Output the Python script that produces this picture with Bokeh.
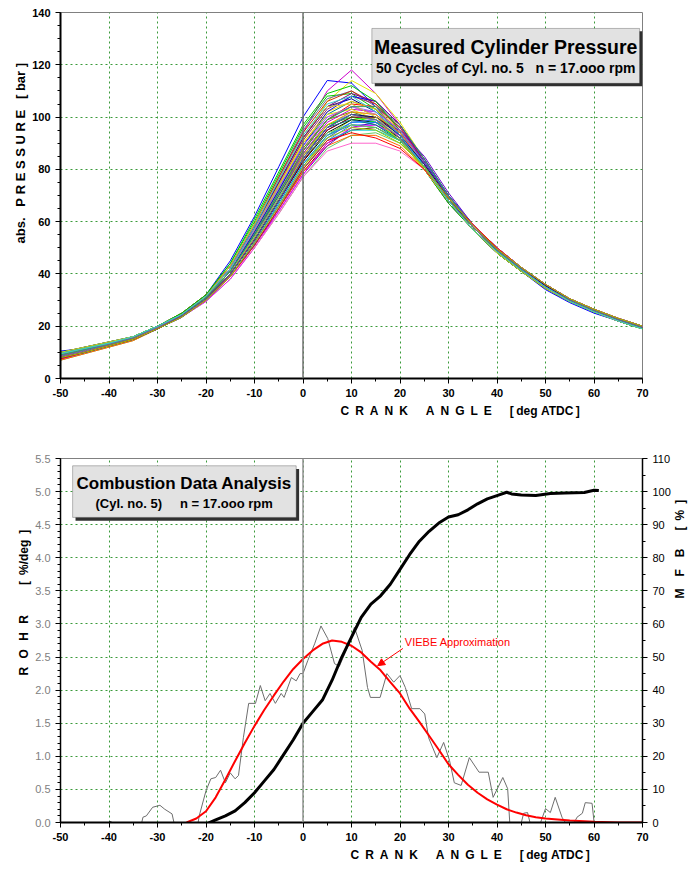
import math
from bokeh.plotting import figure
from bokeh.layouts import column
from bokeh.models import (Range1d, LinearAxis, Span, BoxAnnotation, Label, Arrow, Title,
                          NormalHead, SingleIntervalTicker, ColumnDataSource,
                          PrintfTickFormatter)
from bokeh.embed import file_html
from bokeh.resources import INLINE

# ---------------- data: top chart (50 measured pressure cycles) ----------------
angles = [-50, -45, -40, -35, -30, -25, -20, -15, -10, -5, 0, 5, 10, 15, 20, 25, 30, 35, 40, 45, 50, 55, 60, 65, 70]

cycles = [
    [10.5, 11.5, 13.5, 15.5, 19.5, 24, 32, 45, 62, 81, 100, 114, 113, 104, 93, 81, 68, 57, 48, 41, 34, 29, 25, 22, 19],
    [9, 11, 13, 15.5, 20, 25, 32, 43, 58, 76, 94, 110, 118, 109, 97, 82, 68, 58, 49, 41, 35, 29.5, 25.5, 22, 19.5],
    [8, 10.5, 12.5, 15, 19, 24, 31, 42, 57, 74, 91, 106, 114, 109, 98, 84, 70, 58, 49, 42, 35, 30, 26, 22.5, 19.5],
    [9.5, 12, 14, 16, 20, 24.5, 31, 41, 55, 71, 87, 99, 104, 101, 93, 81, 68, 57, 48, 41, 35, 30, 26, 22, 19],
    [8.5, 10.5, 13, 15.5, 19.5, 24, 30.5, 40, 53, 68, 83, 95, 100, 99, 92, 80, 67, 57, 49, 42, 35.5, 30, 26, 22.5, 20],
    [7.5, 10, 12.5, 15, 19, 23.5, 30, 39, 51, 65, 79, 90, 95, 96, 91, 81, 68, 58, 49, 42, 35, 30, 26, 22.5, 19.5],
    [10, 11.5, 13.5, 16, 20, 24.5, 31.5, 42, 57, 73, 89, 101, 106, 103, 94, 82, 69, 58, 49, 42, 35, 30, 25.5, 22, 19],
    [8, 10, 12.5, 15, 19, 23.5, 30, 39, 52, 66, 80, 91, 97, 97, 92, 82, 69, 58, 49, 42, 35.5, 30.5, 26, 22.5, 20],
    [9, 11, 13, 15.5, 20, 25, 32, 44, 60, 78, 96, 108, 109, 103, 93, 80, 67, 57, 48, 41, 34.5, 29.5, 25.5, 22, 19],
    [8.5, 10.5, 12.5, 15, 19.5, 24, 30.5, 40, 54, 70, 86, 97, 101, 100, 93, 82, 69, 58, 49, 42, 35, 30, 26, 22.5, 19.5],
    [7, 9.5, 12, 14.5, 19, 23.5, 29.5, 38, 50, 63, 77, 88, 93, 94, 90, 81, 69, 59, 50, 42.5, 36, 30.5, 26.5, 23, 20],
    [9.5, 11.5, 13.5, 16, 20, 24.5, 31, 41, 56, 72, 88, 100, 104, 101, 93, 81, 68, 57, 48.5, 41.5, 35, 30, 26, 22, 19],
    [8, 10, 12.5, 15, 19, 24, 30.5, 40, 53, 68, 84, 96, 102, 101, 94, 82, 69, 58, 49, 42, 35, 30, 26, 22.5, 19.5],
    [10, 12, 14, 16, 20, 24.5, 31.5, 42, 58, 75, 92, 104, 107, 102, 93, 81, 68, 57, 48, 41, 34.5, 29.5, 25.5, 22, 19],
    [8.5, 10.5, 13, 15.5, 19.5, 24, 30, 39, 51, 65, 80, 92, 98, 99, 94, 83, 70, 59, 50, 42.5, 36, 30.5, 26.5, 23, 20],
    [9, 11, 13, 15.5, 19.5, 24, 31, 41, 55, 71, 87, 99, 105, 104, 96, 83, 69, 58, 49, 42, 35, 30, 26, 22.5, 19.5],
    [7.5, 10, 12.5, 15, 19, 23.5, 30, 39, 52, 67, 82, 93, 97, 96, 91, 81, 69, 59, 50, 42.5, 36, 30.5, 26.5, 23, 20],
    [9.5, 11.5, 13.5, 16, 20, 24.5, 31.5, 43, 59, 77, 95, 107, 110, 104, 94, 81, 68, 57, 48, 41, 34.5, 29.5, 25.5, 22, 19],
    [8, 10.5, 12.5, 15, 19.5, 24, 30.5, 40, 53, 69, 85, 97, 101, 99, 92, 81, 68, 58, 49, 42, 35.5, 30, 26, 22.5, 19.5],
    [8.5, 10.5, 13, 15.5, 19.5, 24, 30, 39, 52, 66, 81, 93, 99, 100, 95, 84, 70, 59, 50, 42, 35.5, 30.5, 26, 22.5, 20],
    [10, 11.5, 13.5, 16, 20, 24.5, 31, 41, 56, 73, 90, 102, 106, 103, 95, 82, 69, 58, 49, 42, 35, 30, 25.5, 22, 19],
    [7, 9.5, 12, 14.5, 19, 23.5, 30, 39, 51, 65, 79, 89, 93, 93, 89, 80, 68, 58, 49.5, 42.5, 36, 30.5, 26.5, 23, 20],
    [9, 11, 13, 15.5, 20, 24.5, 31.5, 42, 57, 74, 91, 103, 108, 105, 96, 83, 69, 58, 49, 41.5, 35, 30, 25.5, 22, 19.5],
    [8, 10, 12.5, 15, 19, 24, 30.5, 40, 53, 68, 83, 94, 99, 98, 92, 81, 69, 58, 49, 42, 35.5, 30, 26, 22.5, 19.5],
    [9.5, 11.5, 13.5, 16, 20, 24.5, 31, 41, 55, 71, 86, 97, 100, 98, 91, 80, 68, 57, 48.5, 41.5, 35, 30, 26, 22, 19],
    [8.5, 10.5, 13, 15.5, 19.5, 24, 30, 39, 51, 64, 78, 89, 96, 98, 95, 85, 71, 59, 50, 42.5, 36, 30.5, 26.5, 23, 20],
    [9, 11, 13, 15.5, 20, 25, 32, 43, 59, 77, 94, 106, 110, 105, 95, 82, 68, 57, 48, 41, 34.5, 29.5, 25.5, 22, 19],
    [8, 10, 12.5, 15, 19, 23.5, 30, 39, 52, 67, 82, 93, 98, 98, 93, 82, 69, 58, 49, 42, 35.5, 30.5, 26, 22.5, 20],
    [10, 12, 14, 16, 20, 24.5, 31, 41, 56, 72, 88, 99, 102, 99, 91, 80, 68, 57, 48.5, 41.5, 35, 30, 25.5, 22, 19],
    [7.5, 10, 12.5, 15, 19, 23.5, 29.5, 38, 50, 64, 78, 90, 96, 97, 93, 83, 70, 59, 50, 42.5, 36, 30.5, 26.5, 23, 20],
    [9, 11, 13, 15.5, 19.5, 24, 31, 41, 56, 72, 89, 102, 108, 106, 97, 84, 70, 58, 49, 42, 35, 30, 26, 22, 19.5],
    [8.5, 10.5, 13, 15.5, 19.5, 24, 30.5, 40, 54, 70, 86, 98, 103, 102, 95, 83, 69, 58, 49, 42, 35, 30, 26, 22.5, 19.5],
    [9.5, 11.5, 13.5, 16, 20, 24.5, 31, 42, 57, 74, 90, 101, 103, 99, 91, 80, 68, 57, 48.5, 41.5, 35, 29.5, 25.5, 22, 19],
    [8, 10, 12.5, 15, 19, 23.5, 30, 39, 51, 65, 80, 91, 95, 95, 91, 82, 70, 59, 50, 42.5, 36, 30.5, 26.5, 23, 20],
    [9, 11, 13, 15.5, 20, 24.5, 31.5, 42, 58, 75, 92, 104, 109, 106, 97, 83, 69, 58, 49, 41.5, 35, 30, 25.5, 22, 19.5],
    [8.5, 10.5, 13, 15.5, 19.5, 24, 30.5, 40, 53, 68, 83, 95, 100, 100, 94, 83, 70, 59, 49.5, 42, 35.5, 30, 26, 22.5, 19.5],
    [10, 11.5, 13.5, 16, 20, 24.5, 31, 41, 55, 70, 85, 96, 99, 97, 91, 81, 69, 58, 49, 42, 35, 30, 26, 22, 19],
    [7.5, 10, 12.5, 15, 19, 23.5, 30, 39, 52, 66, 81, 92, 98, 99, 94, 83, 70, 59, 50, 42.5, 36, 30.5, 26, 23, 20],
    [9, 11, 13, 15.5, 20, 25, 32, 44, 61, 79, 97, 109, 112, 106, 95, 82, 68, 57, 48, 41, 34.5, 29.5, 25.5, 22, 19],
    [8, 10.5, 12.5, 15, 19.5, 24, 30.5, 40, 54, 69, 85, 97, 102, 101, 94, 82, 69, 58, 49, 42, 35.5, 30, 26, 22.5, 19.5],
    [9.5, 11.5, 13.5, 16, 20, 24.5, 31, 41, 54, 69, 84, 94, 97, 96, 91, 81, 69, 58, 49, 42, 35, 30, 26, 22, 19.5],
    [8.5, 10.5, 13, 15.5, 19.5, 24, 30, 39, 50, 63, 77, 87, 90, 90, 87, 80, 69, 59, 50, 42.5, 36, 30.5, 26.5, 23, 20],
    [9, 11, 13, 15.5, 19.5, 24.5, 31.5, 42, 57, 73, 89, 100, 104, 102, 95, 82, 69, 58, 49, 42, 35, 30, 26, 22, 19.5],
    [8, 10, 12.5, 15, 19, 24, 30.5, 40, 53, 68, 84, 96, 101, 100, 93, 82, 69, 58, 49, 42, 35.5, 30, 26, 22.5, 19.5],
    [10, 12, 14, 16, 20, 24.5, 31.5, 43, 59, 76, 93, 104, 105, 100, 92, 80, 68, 57, 48, 41, 34.5, 29.5, 25.5, 22, 19],
    [7.5, 10, 12.5, 15, 19, 23.5, 30, 39, 51, 65, 80, 91, 94, 92, 88, 80, 69, 59, 50, 42.5, 36, 30.5, 26.5, 23, 20],
    [9, 11, 13, 15.5, 20, 24.5, 31, 41, 55, 71, 87, 99, 104, 104, 97, 84, 70, 58, 49, 42, 35, 30, 26, 22.5, 19.5],
    [8.5, 10.5, 13, 15.5, 19.5, 24, 30.5, 40, 53, 68, 84, 96, 101, 99, 92, 81, 68, 58, 49, 42, 35, 30, 26, 22.5, 19.5],
    [9.5, 11.5, 13.5, 16, 20, 24.5, 31.5, 42, 58, 76, 93, 105, 108, 102, 93, 81, 68, 57, 48.5, 41.5, 35, 29.5, 25.5, 22, 19],
    [8, 10, 12.5, 15, 19, 23.5, 30, 39, 52, 66, 81, 92, 96, 95, 90, 81, 69, 58.5, 49.5, 42.5, 36, 30.5, 26.5, 23, 20],
]

palette = ["#0000ff", "#cc00cc", "#e6e600", "#00cccc", "#800080", "#800000", "#008080", "#3366ff",
           "#00cc00", "#ff9900", "#66cc66", "#ff66cc", "#9966ff", "#000080", "#cccc33", "#ff0000",
           "#339966", "#666699", "#33cccc", "#99cc00", "#ffcc00", "#ff6600", "#993366", "#000000",
           "#00ff00", "#6600cc", "#cc3300", "#0099ff", "#669900", "#ff00ff"]

# ---------------- data: bottom chart ----------------
rohr_x = [-40, -38.5, -37, -35.7, -34.7, -33.7, -33, -32.3, -31, -29.5, -28.5, -27, -26, -25, -24.3,
          -23, -22, -21.4, -20, -19, -18, -17, -16, -15, -14, -13.3, -12.3, -11.2, -9.8, -8.8, -7.8,
          -6.8, -5.7, -4.5, -3.9, -2.4, -1.4, -0.6, 0, 1, 2.4, 3.7, 5.1, 6.5, 7.5, 9.2, 10.6, 12.2,
          13.3, 13.9, 15.9, 17.3, 18.7, 20, 21.1, 22.4, 24.1, 25.1, 25.9, 27.6, 29, 30.2, 31.2, 32.6,
          34.3, 36.3, 38.2, 39.2, 41.2, 42.2, 42.9, 43.9, 45.5, 46.3, 47.3, 48.6, 50, 51, 52, 53.4,
          55.1, 56.5, 57.6, 58.2, 59.6, 60.2, 61.2]
rohr_y = [0.0, -0.1, -0.12, -0.15, -0.08, -0.15, 0.08, 0.1, 0.23, 0.26, 0.2, 0.13, -0.2, -0.18, -0.15,
          -0.15, -0.17, 0.1, 0.48, 0.66, 0.68, 0.79, 0.6, 0.75, 0.66, 0.71, 1.28, 1.8, 1.8, 2.07, 1.84,
          1.95, 1.8, 1.95, 1.89, 2.19, 2.14, 2.25, 2.25, 2.45, 2.7, 2.97, 2.78, 2.4, 2.36, 2.65, 2.95, 2.6,
          2.04, 1.89, 1.89, 2.25, 2.12, 2.22, 2.04, 1.72, 1.72, 1.64, 1.28, 0.98, 1.21, 0.94, 0.6, 0.56,
          0.98, 0.76, 0.76, 0.38, 0.68, 0.51, -0.32, -0.32, 0.14, 0.15, -0.15, -0.08, 0.21, 0.15, 0.38, 0.08,
          -0.12, 0.08, 0.14, 0.3, 0.29, -0.12, -0.02]

viebe_x = [-24, -22, -20, -18, -16, -14, -12, -10, -8, -6, -4, -2, 0, 2, 4, 6, 8, 10, 12, 14, 16, 18,
           20, 22, 24, 26, 28, 30, 32, 34, 36, 38, 40, 42, 44, 46, 48, 50, 55, 60, 65, 70]
viebe_y = [0.0, 0.06, 0.17, 0.38, 0.65, 0.93, 1.2, 1.46, 1.7, 1.92, 2.13, 2.32, 2.47, 2.6, 2.7, 2.75,
           2.73, 2.67, 2.57, 2.43, 2.3, 2.12, 1.95, 1.72, 1.52, 1.31, 1.1, 0.88, 0.72, 0.57, 0.45, 0.35,
           0.27, 0.2, 0.15, 0.11, 0.08, 0.06, 0.03, 0.01, 0.0, 0.0]

mfb_x = [-40, -38, -35, -32, -30, -28, -25, -22, -20, -18, -16, -14, -12, -10, -8, -6, -4, -2, 0, 2, 4,
         6, 8, 10, 12, 14, 16, 18, 20, 22, 24, 26, 28, 30, 32, 34, 36, 38, 40, 42, 43, 45, 48, 51, 54,
         58, 60, 61]
mfb_y = [0, -1, -1.2, -0.8, -0.3, -0.3, -0.3, -0.8, -0.5, 0.8, 2, 3.5, 6, 9, 12.5, 16, 20.5, 25, 30,
         33.5, 37, 43, 50, 56, 62, 66, 68.5, 72, 76.5, 81, 85, 88, 90.5, 92.3, 93, 94.5, 96.3, 97.8,
         98.8, 99.8, 99.3, 99, 98.8, 99.4, 99.6, 99.7, 100.4, 100.3]

FONT = "Liberation Sans"
GRID = "#3a9a3a"
NB = "\u00a0"    # no-break space (not collapsed in SVG text)
EN = "\u2002"    # en space
EM = "\u2003"    # em space
TH = "\u2009"    # thin space


def sp(s):
    return s.replace(" ", NB)


def letters(word, gap):
    return gap.join(list(word))


XTITLE = (letters("CRANK", EN) + EM + EN + letters("ANGLE", EN) + EM + EN
          + "[" + TH + "deg" + NB + "ATDC" + TH + "]")
PTITLE = "abs." + NB * 3 + letters("PRESSURE", NB) + NB * 3 + "[" + NB + "bar" + NB + "]"
RTITLE = letters("ROHR", EN + TH) + EM + EM + EN + "[" + EN + "%/deg" + EN + "]"
MTITLE = letters("MFB", EN + EN) + EM + EN + "[" + EN + "%" + EN + "]"


def style_axis(ax, bold=True, color="black"):
    ax.axis_line_width = 2
    ax.axis_line_color = "black"
    ax.major_tick_out = 5
    ax.major_tick_in = 0
    ax.minor_tick_out = 3
    ax.minor_tick_in = 0
    ax.major_tick_line_color = "black"
    ax.minor_tick_line_color = "black"
    ax.major_label_text_font = FONT
    ax.major_label_text_font_size = "11px"
    ax.major_label_text_font_style = "bold" if bold else "normal"
    ax.major_label_text_color = color


def text_label(p, x, y, text, size, bold=True, align="center", color="black"):
    p.add_layout(Label(x=x, y=y, text=text, text_align=align, text_baseline="middle",
                       text_font=FONT, text_font_size=size, text_color=color,
                       text_font_style="bold" if bold else "normal"))


def side_title(p, side, text, size, offset, bold=True, align="left"):
    p.add_layout(Title(text=text, align=align, offset=offset, standoff=4, text_font=FONT,
                       text_font_size=size, text_color="black",
                       text_font_style="bold" if bold else "normal"), side)


# ---------------- top figure ----------------
p1 = figure(width=696, height=440, x_range=Range1d(-50, 70), y_range=Range1d(0, 140),
            output_backend="svg", toolbar_location=None,
            min_border_left=58, min_border_right=50, min_border_top=12, min_border_bottom=62)
p1.outline_line_color = "#808080"
p1.xaxis.ticker = SingleIntervalTicker(interval=10, num_minor_ticks=2)
p1.yaxis.ticker = SingleIntervalTicker(interval=20, num_minor_ticks=4)
p1.xaxis.formatter = PrintfTickFormatter(format="%d")
p1.yaxis.formatter = PrintfTickFormatter(format="%d")
for g in (p1.xgrid, p1.ygrid):
    g.grid_line_color = GRID
    g.grid_line_dash = "2 3"
    g.grid_line_width = 1
style_axis(p1.xaxis[0])
style_axis(p1.yaxis[0])
p1.add_layout(Span(location=0, dimension="height", line_color="#707070", line_width=1.5))

src = ColumnDataSource(dict(xs=[angles] * len(cycles), ys=cycles,
                            c=[palette[i % len(palette)] for i in range(len(cycles))]))
p1.multi_line("xs", "ys", source=src, line_color="c", line_width=1)

side_title(p1, "below", XTITLE, "12px", 280)
side_title(p1, "left", PTITLE, "13px", 135)

p1.add_layout(BoxAnnotation(left=14.8, right=70.0, top=132.8, bottom=111.8, fill_color="#303030",
                            fill_alpha=1, line_color=None))
p1.add_layout(BoxAnnotation(left=14.2, right=69.4, top=133.9, bottom=112.9, fill_color="#e2e2e2",
                            fill_alpha=1, line_color="#202020", line_width=1))
text_label(p1, 41.8, 126.8, "Measured Cylinder Pressure", "19.5px")
text_label(p1, 41.8, 118.6, sp("50 Cycles of Cyl. no. 5   n = 17.ooo rpm"), "14px")

# ---------------- bottom figure ----------------
p2 = figure(width=696, height=444, x_range=Range1d(-50, 70), y_range=Range1d(0, 5.5),
            output_backend="svg", toolbar_location=None,
            min_border_left=60, min_border_right=48, min_border_top=18, min_border_bottom=62)
p2.outline_line_color = "#808080"
p2.extra_y_ranges = {"mfb": Range1d(0, 110)}
p2.xaxis.ticker = SingleIntervalTicker(interval=10, num_minor_ticks=2)
p2.yaxis.ticker = SingleIntervalTicker(interval=0.5, num_minor_ticks=5)
p2.xaxis.formatter = PrintfTickFormatter(format="%d")
p2.yaxis.formatter = PrintfTickFormatter(format="%.1f")
for g in (p2.xgrid, p2.ygrid):
    g.grid_line_color = GRID
    g.grid_line_dash = "2 3"
    g.grid_line_width = 1
style_axis(p2.xaxis[0])
style_axis(p2.yaxis[0], bold=False, color="#808080")
p2.yaxis[0].axis_line_width = 1.5
ax_r = LinearAxis(y_range_name="mfb", ticker=SingleIntervalTicker(interval=10, num_minor_ticks=2),
                  formatter=PrintfTickFormatter(format="%d"))
style_axis(ax_r, bold=False)
ax_r.axis_line_width = 1.5
p2.add_layout(ax_r, "right")
p2.add_layout(Span(location=0, dimension="height", line_color="#909090", line_width=1.5))

p2.line(rohr_x, rohr_y, line_color="#6e6e6e", line_width=1)
p2.line(viebe_x, viebe_y, line_color="#ff0000", line_width=2)
p2.line(mfb_x, mfb_y, y_range_name="mfb", line_color="black", line_width=3)

side_title(p2, "below", XTITLE, "12px", 290)
side_title(p2, "left", RTITLE, "12px", 147)

# right-hand title: reads bottom-to-top like the original if the axis supports it
try:
    ax_r.axis_label_orientation = math.pi / 2
    ax_r.axis_label = EM * 3 + EN + MTITLE
    ax_r.axis_label_text_font = FONT
    ax_r.axis_label_text_font_size = "12px"
    ax_r.axis_label_text_font_style = "bold"
    ax_r.axis_label_text_color = "black"
    ax_r.axis_label_standoff = 6
except AttributeError:
    side_title(p2, "right", MTITLE, "12px", 35)

p2.add_layout(BoxAnnotation(left=-46.9, right=-0.8, top=5.34, bottom=4.56, fill_color="#303030",
                            fill_alpha=1, line_color=None))
p2.add_layout(BoxAnnotation(left=-47.5, right=-1.4, top=5.39, bottom=4.61, fill_color="#e2e2e2",
                            fill_alpha=1, line_color="#202020", line_width=1))
text_label(p2, -24.5, 5.12, "Combustion Data Analysis", "17px")
text_label(p2, -24.5, 4.82, sp("(Cyl. no. 5)     n = 17.ooo rpm"), "13px")

text_label(p2, 21.0, 2.72, "VIEBE Approximation", "11px", bold=False, align="left", color="#ff0000")
p2.add_layout(Arrow(end=NormalHead(size=7, fill_color="#ff0000", line_color="#ff0000"),
                    x_start=20.6, y_start=2.63, x_end=15.4, y_end=2.37,
                    line_color="#ff0000", line_width=1))

layout = column(p1, p2)
open("out.html", "w").write(file_html(layout, INLINE))
